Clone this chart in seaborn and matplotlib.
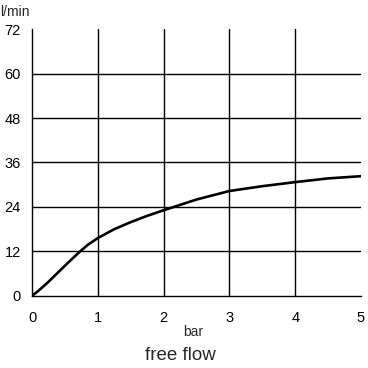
import matplotlib
matplotlib.use('Agg')
import matplotlib.pyplot as plt
import pandas as pd
import seaborn as sns

# pressure (bar) vs flow (l/min)
pressure = [0, 0.1, 0.25, 0.4, 0.55, 0.73, 0.85, 1.0, 1.25, 1.5, 1.75, 2.0, 2.5, 3.0, 3.5, 4.0, 4.5, 5.0]
flow = [0, 1.4, 3.8, 6.4, 9.0, 12.0, 13.8, 15.6, 18.0, 19.9, 21.6, 23.1, 26.0, 28.3, 29.6, 30.7, 31.7, 32.3]
x_ticks = [0, 1, 2, 3, 4, 5]
y_ticks = [0, 12, 24, 36, 48, 60, 72]

df = pd.DataFrame({'bar': pressure, 'flow': flow})

sns.set_style('white')
plt.rcParams['font.family'] = ['Liberation Sans', 'DejaVu Sans']

fig = plt.figure(figsize=(3.68, 3.68), dpi=100)
ax = fig.add_axes([0.087, 0.196, 0.894, 0.725])

sns.lineplot(data=df, x='bar', y='flow', ax=ax, color='black', linewidth=1.9)

ax.set_xlim(0, 5)
ax.set_ylim(0, 72)
ax.set_xticks(x_ticks)
ax.set_yticks(y_ticks)
ax.tick_params(axis='both', direction='out', length=4, width=1, color='black',
               labelsize=10.5, labelcolor='black')
ax.tick_params(axis='x', pad=7)
ax.tick_params(axis='y', pad=4)

# grid only on interior lines
for xv in x_ticks[1:-1]:
    ax.axvline(xv, color='black', linewidth=1, zorder=1)
for yv in y_ticks[1:-1]:
    ax.axhline(yv, color='black', linewidth=1, zorder=1)

for s in ['top', 'right']:
    ax.spines[s].set_visible(False)
for s in ['left', 'bottom']:
    ax.spines[s].set_color('black')
    ax.spines[s].set_linewidth(1)

ax.set_xlabel('')
ax.set_ylabel('')
fig.text(0.0, 0.967, 'l/min', fontsize=10, ha='left', va='center')
fig.text(0.525, 0.097, 'bar', fontsize=10, ha='center', va='center')
fig.text(0.49, 0.035, 'free flow', fontsize=13.5, ha='center', va='center')

fig.savefig('out.png', dpi=100)
